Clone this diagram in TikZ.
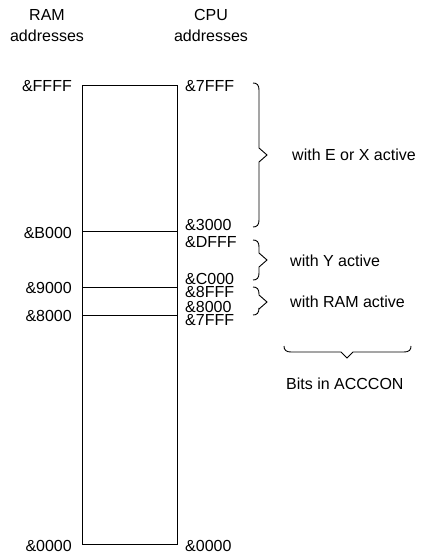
\documentclass[tikz,border=0pt]{standalone}
\usepackage{fontspec}
\setmainfont{Liberation Sans}
\newcommand\mybrace[4]{% x0, top, mid, bottom
  \draw[bracestyle] (#1,#2) .. controls ({#1+4},#2) and ({#1+6},{#2+2}) .. ({#1+6},{#2+7})
    -- ({#1+6},{#3-7}) -- ({#1+14},#3) -- ({#1+6},{#3+7})
    -- ({#1+6},{#4-7}) .. controls ({#1+6},{#4-2}) and ({#1+4},#4) .. (#1,#4);}
\begin{document}
\begin{tikzpicture}[x=1bp,y=-1bp,
  every node/.style={font=\fontsize{16bp}{20bp}\selectfont, inner sep=0pt},
  mem/.style={draw, line width=0.9bp},
  sep/.style={line width=0.9bp},
  bracestyle/.style={line width=0.9bp, line join=miter},
  ramlab/.style={anchor=east},
  cpulab/.style={anchor=west},
  note/.style={anchor=base west}]
\useasboundingbox (0,0) rectangle (421,557);
% column headers
\node[anchor=base] (ramT) at (47,20.5) {RAM};
\node[anchor=base] (ramA) at (47,41.5) {addresses};
\node[anchor=base] (cpuT) at (211,20.5) {CPU};
\node[anchor=base] (cpuA) at (211,41.5) {addresses};
% memory block
\node[mem, minimum width=95bp, minimum height=459bp, anchor=north west] (blk) at (82,85) {};
\coordinate (b0L) at (82,231);  \coordinate (b0R) at (177,231);
\coordinate (b9L) at (82,287);  \coordinate (b9R) at (177,287);
\coordinate (b8L) at (82,315);  \coordinate (b8R) at (177,315);
\draw[sep] (b0L) -- (b0R);
\draw[sep] (b9L) -- (b9R);
\draw[sep] (b8L) -- (b8R);
% RAM addresses
\node[ramlab] (rFFFF) at (72,86) {\&FFFF};
\node[ramlab] (rB000) at (72,232.5) {\&B000};
\node[ramlab] (r9000) at (72,288) {\&9000};
\node[ramlab] (r8000) at (72,316) {\&8000};
\node[ramlab] (r0000) at (72,546) {\&0000};
% CPU addresses
\node[cpulab] (c7FFFa) at (185,86) {\&7FFF};
\node[cpulab] (c3000) at (185,225) {\&3000};
\node[cpulab] (cDFFF) at (185,242) {\&DFFF};
\node[cpulab] (cC000) at (185,278.5) {\&C000};
\node[cpulab] (c8FFF) at (185,291.5) {\&8FFF};
\node[cpulab] (c8000) at (185,307) {\&8000};
\node[cpulab] (c7FFFb) at (185,320) {\&7FFF};
\node[cpulab] (c0000) at (185,546) {\&0000};
% braces
\mybrace{253}{83}{155}{227}
\mybrace{253}{240}{260}{280}
\mybrace{253}{287}{302}{315}
\draw[bracestyle] (284,346) .. controls (284,350) and (286,352) .. (291,352)
  -- (341,352) -- (347,358) -- (353,352) -- (404,352)
  .. controls (409,352) and (411,350) .. (411,346);
% notes
\node[note] (nEX) at (292,161) {with E or X active};
\node[note] (nY) at (290,266) {with Y active};
\node[note] (nRAM) at (290,307) {with RAM active};
\node[note] (nBits) at (286,389.5) {Bits in ACCCON};
\end{tikzpicture}
\end{document}
